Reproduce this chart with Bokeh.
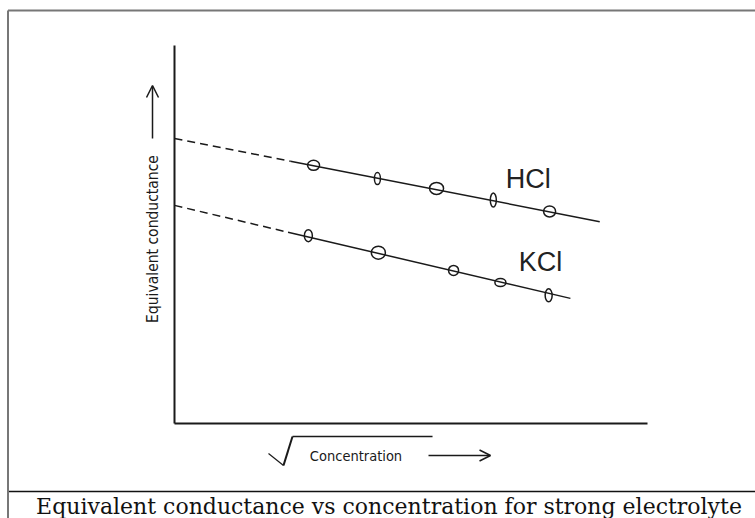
import math
from bokeh.plotting import figure
from bokeh.models import Range1d, FixedTicker, Label, Arrow, OpenHead
from bokeh.core.properties import value
from bokeh.embed import file_html
from bokeh.resources import INLINE

# ---- data (arbitrary units: x = sqrt(concentration), y = equivalent conductance)
hcl_x = [2.94, 4.29, 5.54, 6.74, 7.93]
hcl_y = [6.83, 6.48, 6.22, 5.91, 5.61]
kcl_x = [2.83, 4.31, 5.90, 6.89, 7.91]
kcl_y = [4.97, 4.52, 4.05, 3.73, 3.39]

# fitted straight lines: dashed extrapolation to zero concentration, then solid
hcl_dash_x = [0.0, 2.45]
hcl_dash_y = [7.54, 6.94]
hcl_solid_x = [2.45, 8.99]
hcl_solid_y = [6.94, 5.34]
kcl_dash_x = [0.0, 2.40]
kcl_dash_y = [5.77, 5.06]
kcl_solid_x = [2.40, 8.37]
kcl_solid_y = [5.06, 3.31]

series_names = ["HCl", "KCl"]
series_label_x = [7.48, 7.74]
series_label_y = [6.48, 4.26]

# axis extents
x_axis_end = 10.0
y_axis_end = 10.0

# hand-drawn marker shapes (screen px) - styling only
hcl_w = [12, 6, 14, 6, 12]
hcl_h = [10, 12, 12, 14, 11]
kcl_w = [8, 14, 10, 11, 7]
kcl_h = [12, 13, 10, 8, 13]

ylabel = "Equivalent conductance"
xlabel = "Concentration"
caption = "Equivalent conductance vs concentration for strong electrolyte"

INK = "#1a1a1a"
NARROW = "'DejaVu Sans Condensed', 'Liberation Sans', sans-serif"

p = figure(width=755, height=518, output_backend="svg", toolbar_location=None,
           x_range=Range1d(-3.6786, 12.283), y_range=Range1d(-2.513, 11.190),
           min_border=0)
p.outline_line_color = None
p.grid.visible = False
p.background_fill_color = "white"
p.border_fill_color = "white"

for ax in (p.xaxis[0], p.yaxis[0]):
    ax.ticker = FixedTicker(ticks=[])
    ax.major_tick_line_color = None
    ax.minor_tick_line_color = None
    ax.major_tick_out = 0
    ax.major_tick_in = 0
    ax.minor_tick_out = 0
    ax.minor_tick_in = 0
    ax.major_label_text_font_size = "0px"
    ax.major_label_standoff = 0
    ax.axis_label_standoff = 0
    ax.axis_line_width = 2
    ax.axis_line_color = INK
    ax.fixed_location = 0
p.xaxis[0].bounds = (0, x_axis_end)
p.yaxis[0].bounds = (0, y_axis_end)

# lines
p.line(hcl_dash_x, hcl_dash_y, line_color=INK, line_width=1.5, line_dash="8 5")
p.line(hcl_solid_x, hcl_solid_y, line_color=INK, line_width=1.5)
p.line(kcl_dash_x, kcl_dash_y, line_color=INK, line_width=1.5, line_dash="8 5")
p.line(kcl_solid_x, kcl_solid_y, line_color=INK, line_width=1.5)

# hand-drawn style markers
p.ellipse(x=hcl_x, y=hcl_y, width=hcl_w, height=hcl_h, width_units="screen",
          height_units="screen", fill_color=None, line_color=INK, line_width=1.5)
p.ellipse(x=kcl_x, y=kcl_y, width=kcl_w, height=kcl_h, width_units="screen",
          height_units="screen", fill_color=None, line_color=INK, line_width=1.5)

for name, lx, ly in zip(series_names, series_label_x, series_label_y):
    p.add_layout(Label(x=lx, y=ly, text=name, text_align="center",
                       text_baseline="middle", text_font="Liberation Sans",
                       text_font_size="27px", text_color="#222"))

# y axis label with arrow
p.add_layout(Label(x=-0.465, y=4.881, text=ylabel,
                   angle=math.pi / 2, text_align="center", text_baseline="middle",
                   text_font=NARROW, text_font_size="15.5px", text_color=INK))
p.add_layout(Arrow(x_start=-0.465, y_start=7.54, x_end=-0.465, y_end=8.942,
                   line_color=INK, line_width=1.5,
                   end=OpenHead(size=12, line_color=INK, line_width=1.5)))

# x axis label: radical sign + text + arrow
for (x0, y0, x1, y1, w) in [(1.987, -0.794, 2.304, -1.111, 1.2),
                            (2.304, -1.111, 2.495, -0.344, 2),
                            (2.495, -0.344, 5.455, -0.344, 1.5)]:
    p.add_layout(Arrow(x_start=x0, y_start=y0, x_end=x1, y_end=y1,
                       line_color=INK, line_width=w, end=None))
p.add_layout(Label(x=3.837, y=-0.847, text=xlabel,
                   text_align="center", text_baseline="middle",
                   text_font=NARROW, text_font_size="14.5px", text_color=INK))
p.add_layout(Arrow(x_start=5.370, y_start=-0.847, x_end=6.681, y_end=-0.847,
                   line_color=INK, line_width=1.5,
                   end=OpenHead(size=11, line_color=INK, line_width=1.5)))

# outer frame (left and top edges) and caption row
for (x0, y0, x1, y1, c) in [(-3.520, 10.926, -3.520, -3.0, "#777777"),
                            (-3.520, 10.926, 13.0, 10.926, "#777777"),
                            (-3.499, -1.799, 13.0, -1.799, "#111111")]:
    p.add_layout(Arrow(x_start=x0, y_start=y0, x_end=x1, y_end=y1,
                       line_color=c, line_width=2 if c == "#777777" else 1.5,
                       end=None))
p.add_layout(Label(x=4.535, y=-2.196, text=caption,
                   text_align="center", text_baseline="alphabetic",
                   text_font="DejaVu Serif", text_font_size="22px",
                   text_color="#111111"))

open("out.html", "w").write(file_html(p, INLINE))
